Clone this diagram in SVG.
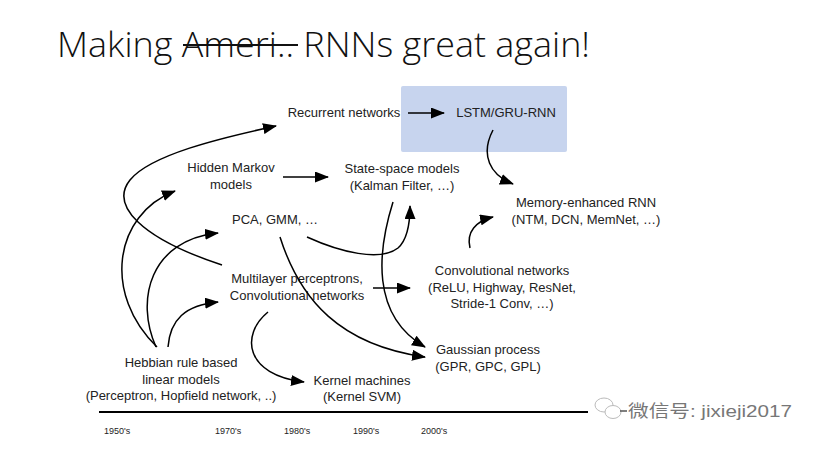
<svg xmlns="http://www.w3.org/2000/svg" width="819" height="449" viewBox="0 0 819 449">
<defs>
<marker id="arr" viewBox="0 0 14 11" refX="13" refY="5.5" markerWidth="14" markerHeight="11" markerUnits="userSpaceOnUse" orient="auto">
<path d="M0,0 L14,5.5 L0,11 z" fill="#000"/>
</marker>
<style>
.lbl{font-family:"Liberation Sans",Arial,sans-serif;font-size:13px;fill:#222;text-anchor:middle}
.yr{font-family:"Liberation Sans",Arial,sans-serif;font-size:9px;fill:#222}
.c{fill:none;stroke:#000;stroke-width:1.5;marker-end:url(#arr)}
</style>
</defs>
<rect width="819" height="449" fill="#fff"/>
<g id="title">
<text x="57" y="57" font-family="'Open Sans','Liberation Sans',sans-serif" font-weight="300" font-size="35" fill="#111" textLength="533" lengthAdjust="spacingAndGlyphs">Making Ameri.. RNNs great again!</text>
<line x1="183" y1="45" x2="298" y2="45" stroke="#111" stroke-width="1.8"/>
</g>
<g id="lstm-box"><rect x="401" y="86" width="166" height="66" rx="2" fill="#c7d4ee"/></g>
<g id="recurrent"><text class="lbl" x="344" y="117">Recurrent networks</text></g>
<g id="lstm"><text class="lbl" x="506" y="117">LSTM/GRU-RNN</text></g>
<g id="hmm"><text class="lbl" x="231" y="172">Hidden Markov</text><text class="lbl" x="231" y="189">models</text></g>
<g id="ssm"><text class="lbl" x="402" y="173">State-space models</text><text class="lbl" x="402" y="190">(Kalman Filter, …)</text></g>
<g id="pca"><text class="lbl" x="275" y="224">PCA, GMM, …</text></g>
<g id="memory"><text class="lbl" x="586" y="207">Memory-enhanced RNN</text><text class="lbl" x="586" y="224">(NTM, DCN, MemNet, …)</text></g>
<g id="mlp"><text class="lbl" x="297" y="283">Multilayer perceptrons,</text><text class="lbl" x="297" y="300">Convolutional networks</text></g>
<g id="conv"><text class="lbl" x="502" y="275">Convolutional networks</text><text class="lbl" x="502" y="292">(ReLU, Highway, ResNet,</text><text class="lbl" x="502" y="308">Stride-1 Conv, …)</text></g>
<g id="gp"><text class="lbl" x="488" y="354">Gaussian process</text><text class="lbl" x="488" y="371">(GPR, GPC, GPL)</text></g>
<g id="hebbian"><text class="lbl" x="181" y="367">Hebbian rule based</text><text class="lbl" x="181" y="384">linear models</text><text class="lbl" x="181" y="400">(Perceptron, Hopfield network, ..)</text></g>
<g id="kernel"><text class="lbl" x="362" y="385">Kernel machines</text><text class="lbl" x="362" y="401">(Kernel SVM)</text></g>
<g id="timeline">
<line x1="99" y1="412" x2="588" y2="412" stroke="#000" stroke-width="2"/>
<text class="yr" x="104" y="434">1950's</text>
<text class="yr" x="215" y="434">1970's</text>
<text class="yr" x="284" y="434">1980's</text>
<text class="yr" x="353" y="434">1990's</text>
<text class="yr" x="421" y="434">2000's</text>
</g>
<g id="connectors">
<path class="c" d="M408,113 L444,113"/>
<path class="c" d="M283,177 L328,177"/>
<path class="c" d="M373,288 L410,288"/>
<path class="c" d="M493,130 C480,155 490,175 513,184"/>
<path class="c" d="M470,248 C466,232 476,221 493,217"/>
<path class="c" d="M307,237 C340,252 380,262 398,248 C407,240 410,225 410,206"/>
<path class="c" d="M393,202 C378,250 370,315 425,347"/>
<path class="c" d="M280,237 C300,300 340,345 425,357"/>
<path class="c" d="M268,312 C240,335 245,375 304,382"/>
<path class="c" d="M157,347 C103,295 113,215 175,191"/>
<path class="c" d="M156,347 C135,300 150,240 218,233"/>
<path class="c" d="M168,347 C170,320 185,305 218,302"/>
<path class="c" d="M222,265 C140,238 110,205 130,180 C150,155 220,138 276,126"/>
</g>
<g id="watermark">
<ellipse cx="604" cy="405" rx="9" ry="7" fill="none" stroke="#bbb" stroke-width="1"/>
<ellipse cx="613" cy="412" rx="8" ry="6.5" fill="#fff" stroke="#bbb" stroke-width="1"/>
<line x1="620" y1="411" x2="627" y2="411" stroke="#555" stroke-width="1.5"/>
<text x="628" y="417" font-family="'Liberation Sans','Noto Sans CJK SC',sans-serif" font-size="17" fill="#777" textLength="164" lengthAdjust="spacingAndGlyphs">微信号: jixieji2017</text>
</g>
</svg>
